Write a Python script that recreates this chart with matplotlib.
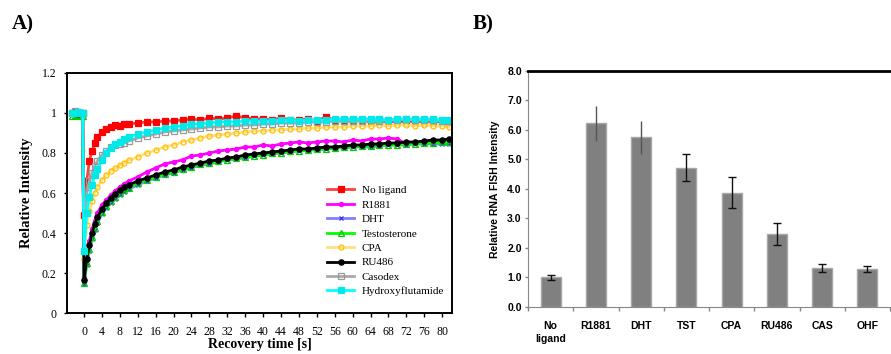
import matplotlib
matplotlib.use("Agg")
import matplotlib.pyplot as plt
from matplotlib.ticker import FixedLocator

SERIF = "Liberation Serif"
SANS = "Liberation Sans"

# ---- Panel A: FRAP recovery curves ----
time_s = [-2.6, -2.0, -1.4, -0.8, -0.3,
          0.0, 0.6, 1.2, 1.8, 2.4, 3.0, 4, 5, 6, 7, 8, 9, 10,
          12, 14, 16, 18, 20, 22, 24, 26, 28, 30, 32, 34, 36, 38, 40, 42, 44, 46,
          48, 50, 52, 54, 56, 58, 60, 62, 64, 66, 68, 70, 72, 74, 76, 78, 80, 81.5]

no_ligand = [1.0, 1.005, 0.995, 1.0, 1.0,
             0.49, 0.66, 0.76, 0.81, 0.85, 0.88, 0.905, 0.92, 0.93, 0.94, 0.935, 0.945, 0.945,
             0.95, 0.955, 0.955, 0.96, 0.96, 0.965, 0.97, 0.965, 0.975, 0.97, 0.975, 0.985, 0.975, 0.97,
             0.97, 0.965, 0.975, 0.965, 0.965, 0.97, 0.96, 0.98, 0.965, 0.96, 0.96, 0.965, 0.955, 0.96,
             0.955, 0.96, 0.955, 0.96, 0.955, 0.96, 0.955, 0.955]
r1881 = [1.0, 0.995, 1.0, 1.0, 1.0,
         0.18, 0.28, 0.36, 0.42, 0.46, 0.50, 0.54, 0.565, 0.59, 0.61, 0.63, 0.645, 0.66,
         0.68, 0.705, 0.725, 0.745, 0.755, 0.765, 0.785, 0.79, 0.80, 0.81, 0.815, 0.82, 0.83, 0.83,
         0.84, 0.835, 0.845, 0.85, 0.855, 0.85, 0.855, 0.86, 0.86, 0.855, 0.865, 0.86, 0.87, 0.87,
         0.875, 0.87, 0.845, 0.85, 0.85, 0.855, 0.855, 0.85]
dht = [1.0, 1.0, 1.0, 0.995, 1.0,
       0.145, 0.24, 0.31, 0.37, 0.415, 0.45, 0.495, 0.525, 0.55, 0.57, 0.59, 0.605, 0.62,
       0.64, 0.66, 0.675, 0.69, 0.70, 0.715, 0.725, 0.74, 0.745, 0.755, 0.765, 0.77, 0.775, 0.785,
       0.79, 0.795, 0.80, 0.805, 0.81, 0.815, 0.815, 0.82, 0.825, 0.825, 0.83, 0.83, 0.83, 0.835,
       0.84, 0.84, 0.84, 0.845, 0.845, 0.845, 0.845, 0.845]
testosterone = [0.985, 0.99, 0.985, 0.99, 0.985,
                0.15, 0.25, 0.32, 0.38, 0.425, 0.46, 0.505, 0.535, 0.56, 0.58, 0.60, 0.615, 0.625,
                0.65, 0.665, 0.68, 0.695, 0.705, 0.72, 0.73, 0.745, 0.75, 0.76, 0.765, 0.775, 0.78, 0.785,
                0.79, 0.80, 0.80, 0.81, 0.81, 0.815, 0.82, 0.82, 0.825, 0.83, 0.83, 0.835, 0.835, 0.84,
                0.84, 0.84, 0.845, 0.845, 0.85, 0.85, 0.855, 0.855]
cpa = [0.995, 1.0, 1.0, 0.995, 1.0,
       0.27, 0.44, 0.51, 0.56, 0.60, 0.63, 0.665, 0.69, 0.71, 0.725, 0.74, 0.75, 0.765,
       0.78, 0.80, 0.815, 0.83, 0.84, 0.855, 0.865, 0.875, 0.885, 0.89, 0.895, 0.90, 0.905, 0.91,
       0.91, 0.915, 0.915, 0.92, 0.92, 0.925, 0.925, 0.93, 0.93, 0.93, 0.935, 0.935, 0.935, 0.94,
       0.935, 0.94, 0.94, 0.935, 0.94, 0.935, 0.935, 0.93]
ru486 = [1.0, 1.0, 0.995, 1.0, 1.0,
         0.165, 0.27, 0.34, 0.40, 0.445, 0.48, 0.52, 0.55, 0.575, 0.595, 0.615, 0.63, 0.64,
         0.66, 0.675, 0.69, 0.705, 0.715, 0.73, 0.74, 0.75, 0.76, 0.765, 0.775, 0.78, 0.79, 0.795,
         0.80, 0.805, 0.81, 0.815, 0.82, 0.82, 0.825, 0.83, 0.83, 0.835, 0.84, 0.84, 0.845, 0.845,
         0.85, 0.85, 0.855, 0.855, 0.86, 0.865, 0.865, 0.87]
casodex = [1.0, 1.01, 1.005, 1.0, 1.0,
           0.31, 0.60, 0.66, 0.70, 0.735, 0.76, 0.79, 0.81, 0.83, 0.84, 0.845, 0.85, 0.86,
           0.875, 0.885, 0.895, 0.905, 0.91, 0.915, 0.92, 0.925, 0.93, 0.93, 0.935, 0.935, 0.94, 0.94,
           0.945, 0.945, 0.95, 0.95, 0.95, 0.955, 0.955, 0.955, 0.96, 0.96, 0.96, 0.96, 0.965, 0.96,
           0.965, 0.965, 0.97, 0.965, 0.965, 0.965, 0.96, 0.96]
hydroxyflutamide = [1.0, 1.0, 1.005, 1.0, 1.0,
                    0.31, 0.50, 0.58, 0.64, 0.69, 0.72, 0.765, 0.80, 0.825, 0.845, 0.855, 0.87, 0.88,
                    0.895, 0.905, 0.915, 0.925, 0.93, 0.935, 0.945, 0.945, 0.95, 0.955, 0.955, 0.955, 0.96, 0.96,
                    0.96, 0.96, 0.965, 0.965, 0.96, 0.965, 0.965, 0.965, 0.97, 0.97, 0.97, 0.97, 0.97, 0.97,
                    0.965, 0.97, 0.97, 0.97, 0.97, 0.97, 0.965, 0.965]

x_ticks = [0, 4, 8, 12, 16, 20, 24, 28, 32, 36, 40, 44, 48, 52, 56, 60, 64, 68, 72, 76, 80]
y_ticks = [0, 0.2, 0.4, 0.6, 0.8, 1.0, 1.2]
y_ticklabels = ["0", "0.2", "0.4", "0.6", "0.8", "1", "1.2"]

# ---- Panel B: RNA FISH intensity ----
ligands = ["No\nligand", "R1881", "DHT", "TST", "CPA", "RU486", "CAS", "OHF"]
fish_mean = [1.0, 6.22, 5.75, 4.72, 3.87, 2.47, 1.33, 1.30]
fish_err = [0.10, 0.60, 0.55, 0.45, 0.52, 0.37, 0.13, 0.10]
fish_yticks = [0, 1, 2, 3, 4, 5, 6, 7, 8]

fig = plt.figure(figsize=(8.91, 3.54), dpi=100)

# ------ Panel A ------
ax = fig.add_axes([0.0752, 0.1158, 0.4321, 0.678])
series = [
    ("No ligand", no_ligand, dict(mfc="#ff0000", mec="#ff0000", marker="s", ms=4.0, lc="#ff4040")),
    ("R1881", r1881, dict(mfc="#ff00ff", mec="#ff00ff", marker="o", ms=3.0, lc="#ff00ff")),
    ("DHT", dht, dict(mfc="#0000ff", mec="#3333ff", marker="x", ms=3.5, lc="#8080ff")),
    ("Testosterone", testosterone, dict(mfc="none", mec="#00cc00", marker="^", ms=3.8, lc="#00ff00")),
    ("CPA", cpa, dict(mfc="none", mec="#ffc000", marker="o", ms=3.6, lc="#ffe080")),
    ("RU486", ru486, dict(mfc="#000000", mec="#000000", marker="o", ms=3.8, lc="#000000")),
    ("Casodex", casodex, dict(mfc="none", mec="#999999", marker="s", ms=4.0, lc="#aaaaaa")),
    ("Hydroxyflutamide", hydroxyflutamide, dict(mfc="#00e8e8", mec="#00e8e8", marker="s", ms=3.8, lc="#00ffff")),
]
for label, vals, st in series:
    ax.plot(time_s, vals, color=st["lc"], lw=2.0, marker=st["marker"], ms=st["ms"],
            mfc=st["mfc"], mec=st["mec"], mew=0.9, label=label)

ax.set_xlim(-3.8, 82.2)
ax.set_ylim(0, 1.2)
ax.set_xticks(x_ticks)
ax.set_xticklabels([str(v) for v in x_ticks], family=SERIF, fontsize=8.5)
ax.set_yticks(y_ticks)
ax.set_yticklabels(y_ticklabels, family=SERIF, fontsize=8.5)
ax.tick_params(axis="x", direction="out", length=3, width=1, pad=6)
ax.tick_params(axis="y", direction="out", length=2.5, width=1, pad=5)
for sp in ax.spines.values():
    sp.set_linewidth(1.4)
ax.set_xlabel("Recovery time [s]", family=SERIF, fontsize=10, fontweight="bold", labelpad=0.5)
ax.set_ylabel("Relative Intensity", family=SERIF, fontsize=10.5, fontweight="bold", labelpad=6)
ax.legend(loc="upper left", bbox_to_anchor=(0.665, 0.55), frameon=False,
          prop={"family": SERIF, "size": 8}, handlelength=2.4,
          labelspacing=0.42, handletextpad=0.7, borderaxespad=0)

fig.text(0.013, 0.93, "A)", family=SERIF, fontsize=15, fontweight="bold", va="center")

# ------ Panel B ------
bx = fig.add_axes([0.5926, 0.1328, 0.4063, 0.6667])
pos = list(range(len(ligands)))
bx.bar(pos, fish_mean, width=0.44, color="#808080", edgecolor="#a8a8a8", linewidth=1.0, zorder=2)
for i in pos:
    no_cap = ligands[i] in ("R1881", "DHT")
    bx.errorbar(i, fish_mean[i], yerr=fish_err[i], fmt="none",
                ecolor="#555555" if no_cap else "#111111", elinewidth=1.0,
                capsize=0 if no_cap else 2.6, capthick=1.0, zorder=3)

bx.set_xlim(-0.5, 7.5)
bx.set_ylim(0, 8)
bx.set_yticks(fish_yticks)
bx.set_yticklabels([f"{v:.1f}" for v in fish_yticks], family=SANS, fontsize=7.5, fontweight="bold")
bx.set_xticks(pos)
bx.set_xticklabels(ligands, family=SANS, fontsize=7.5, fontweight="bold", va="top", linespacing=1.4)
bx.xaxis.set_minor_locator(FixedLocator([p - 0.5 for p in pos] + [7.5]))
bx.tick_params(axis="x", which="major", length=0, pad=10)
bx.tick_params(axis="x", which="minor", direction="out", length=3, color="#888888", width=1)
bx.tick_params(axis="y", direction="out", length=2.5, color="#888888", width=1, pad=2)
bx.spines["right"].set_visible(False)
bx.spines["top"].set_linewidth(2.0)
bx.spines["top"].set_color("black")
bx.spines["left"].set_color("#888888")
bx.spines["bottom"].set_color("#888888")
bx.set_ylabel("Relative RNA FISH Intensity", family=SANS, fontsize=7.5, fontweight="bold", labelpad=5)

fig.text(0.531, 0.93, "B)", family=SERIF, fontsize=15, fontweight="bold", va="center")

fig.savefig("out.png", dpi=100)
